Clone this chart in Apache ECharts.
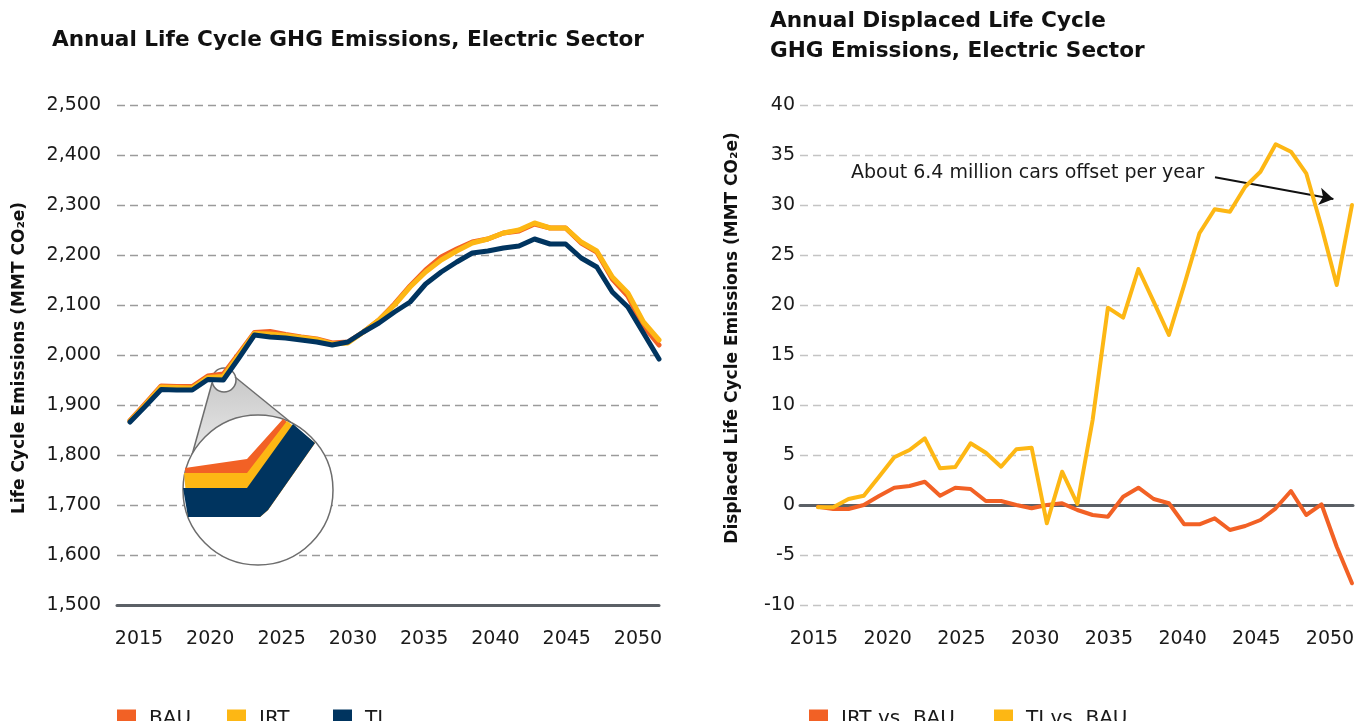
<!DOCTYPE html>
<html>
<head>
<meta charset="utf-8">
<title>Life Cycle GHG Emissions, Electric Sector</title>
<script src="https://cdn.jsdelivr.net/npm/echarts@6/dist/echarts.min.js"></script>
<style>
  html, body { margin: 0; padding: 0; background: #fff; }
  #chart { width: 1359px; height: 721px; }
</style>
</head>
<body>
<div id="chart"></div>
<script>
// 左图：年度全生命周期排放
const yearsLeft = [2016, 2017, 2018, 2019, 2020, 2021, 2022, 2023, 2024, 2025,
  2026, 2027, 2028, 2029, 2030, 2031, 2032, 2033, 2034, 2035,
  2036, 2037, 2038, 2039, 2040, 2041, 2042, 2043, 2044, 2045,
  2046, 2047, 2048, 2049, 2050]
const bau = [1869, 1903, 1938, 1937, 1937, 1958, 1962, 2003, 2045, 2047,
  2041, 2036, 2032, 2024, 2026, 2046, 2070, 2102, 2138, 2170,
  2196, 2212, 2226, 2232, 2244, 2248, 2262, 2254, 2254, 2224,
  2206, 2152, 2118, 2058, 2020]
const irt = [1868, 1901, 1936, 1935, 1934, 1955, 1957, 2000, 2043, 2042,
  2039, 2035, 2031, 2022, 2024, 2046, 2070, 2100, 2136, 2166,
  2190, 2208, 2224, 2232, 2244, 2250, 2264, 2254, 2254, 2226,
  2208, 2156, 2124, 2066, 2030]
const ti = [1866, 1898, 1931, 1930, 1930, 1951, 1950, 1994, 2040, 2036,
  2034, 2030, 2026, 2020, 2026, 2046, 2064, 2086, 2106, 2142,
  2166, 2186, 2204, 2208, 2214, 2218, 2232, 2222, 2222, 2194,
  2176, 2126, 2096, 2044, 1992]

// 右图：被替代的排放
const yearsRight = [2016, 2017, 2018, 2019, 2020, 2021, 2022, 2023, 2024, 2025,
  2026, 2027, 2028, 2029, 2030, 2031, 2032, 2033, 2034, 2035,
  2036, 2037, 2038, 2039, 2040, 2041, 2042, 2043, 2044, 2045,
  2046, 2047, 2048, 2049, 2050, 2051]
const irtVsBau = [-0.17, -0.4, -0.4, 0, 0.9, 1.73, 1.9, 2.33, 0.93, 1.73,
  1.6, 0.4, 0.4, 0, -0.33, 0, 0.17, -0.5, -1.0, -1.17,
  0.83, 1.73, 0.6, 0.17, -1.93, -1.93, -1.33, -2.5, -2.1, -1.5,
  -0.33, 1.4, -1.0, 0.07, -4.17, -7.83]
const tiVsBau = [-0.23, -0.23, 0.6, 0.93, 2.83, 4.77, 5.5, 6.67, 3.67, 3.8,
  6.17, 5.23, 3.83, 5.57, 5.73, -1.83, 3.33, 0.1, 8.5, 19.73,
  18.73, 23.6, 20.33, 17.0, 22.0, 27.17, 29.57, 29.33, 31.83, 33.33,
  36.07, 35.33, 33.17, 27.83, 22.0, 30.0]

const tickYears = [2015, 2020, 2025, 2030, 2035, 2040, 2045, 2050]

const ORANGE = '#f26125'
const YELLOW = '#fdb714'
const NAVY = '#00345f'
const AXIS_GRAY = '#5b6066'
const FONT = 'DejaVu Sans'

const pairs = (xs, ys) => ys.map((v, i) => [xs[i], v])

const dataAxis = (gridIndex, min, max, onZero) => ({ // 数据用的隐藏轴
  type: 'value',
  gridIndex: gridIndex,
  min: min,
  max: max,
  position: 'bottom',
  axisLine: { show: true, onZero: onZero, lineStyle: { color: AXIS_GRAY, width: 3 } },
  axisTick: { show: false },
  axisLabel: { show: false },
  splitLine: { show: false }
})

const labelAxis = (gridIndex, min, max) => ({ // 只画年份标签
  type: 'value',
  gridIndex: gridIndex,
  min: min,
  max: max,
  position: 'bottom',
  axisLine: { show: false, onZero: false },
  axisTick: { show: false },
  splitLine: { show: false },
  axisLabel: {
    customValues: tickYears,
    margin: 25,
    color: '#1a1a1a',
    fontFamily: FONT,
    fontSize: 19,
    formatter: v => String(v)
  }
})

const lineSeries = (name, xi, yi, xs, ys, color, width) => ({
  name: name,
  type: 'line',
  xAxisIndex: xi,
  yAxisIndex: yi,
  z: 10,
  data: pairs(xs, ys),
  symbol: 'none',
  animation: false,
  lineStyle: { color: color, width: width, cap: 'round', join: 'round' },
  itemStyle: { color: color }
})

const legendItem = (name, left) => ({
  data: [name],
  left: left,
  top: 709,
  padding: 0,
  icon: 'rect',
  itemWidth: 19,
  itemHeight: 19,
  selectedMode: false,
  textStyle: { fontFamily: FONT, fontSize: 20, color: '#1a1a1a', padding: [0, 0, 0, 8] }
})

const titleStyle = { fontFamily: FONT, fontWeight: 'bold', fontSize: 21.6, color: '#111', lineHeight: 30 }

const option = {
  backgroundColor: '#fff',
  animation: false,
  title: [
    {
      text: 'Annual Life Cycle GHG Emissions, Electric Sector',
      left: 52,
      top: 25,
      padding: 0,
      textStyle: titleStyle
    },
    {
      text: 'Annual Displaced Life Cycle\nGHG Emissions, Electric Sector',
      left: 770,
      top: 6,
      padding: 0,
      textStyle: titleStyle
    }
  ],
  grid: [
    { left: 117, top: 105, width: 542, height: 500 },
    { left: 800, top: 105, width: 553, height: 500 }
  ],
  xAxis: [
    dataAxis(0, 2015.164, 2050, false),
    labelAxis(0, 2013.457, 2051.473),
    dataAxis(1, 2014.82, 2051.066, true),
    labelAxis(1, 2014.05, 2051.56)
  ],
  yAxis: [
    {
      type: 'value',
      gridIndex: 0,
      min: 1500,
      max: 2500,
      interval: 100,
      axisLine: { show: false },
      axisTick: { show: false },
      axisLabel: {
        margin: 16,
        color: '#1a1a1a',
        fontFamily: FONT,
        fontSize: 19,
        formatter: v => v.toLocaleString('en-US')
      },
      splitLine: { lineStyle: { color: '#9b9b9b', width: 1.4, type: [8, 5] } }
    },
    {
      type: 'value',
      gridIndex: 1,
      min: -10,
      max: 40,
      interval: 5,
      axisLine: { show: false },
      axisTick: { show: false },
      axisLabel: {
        margin: 5,
        color: '#1a1a1a',
        fontFamily: FONT,
        fontSize: 19
      },
      splitLine: { lineStyle: { color: '#c4c4c4', width: 1.4, type: [8, 5] } }
    }
  ],
  legend: [
    legendItem('BAU', 117),
    legendItem('IRT', 227),
    legendItem('TI', 333),
    legendItem('IRT vs. BAU', 809),
    legendItem('TI vs. BAU', 994)
  ],
  series: [
    lineSeries('BAU', 0, 0, yearsLeft, bau, ORANGE, 5),
    lineSeries('IRT', 0, 0, yearsLeft, irt, YELLOW, 5),
    lineSeries('TI', 0, 0, yearsLeft, ti, NAVY, 5),
    lineSeries('IRT vs. BAU', 2, 1, yearsRight, irtVsBau, ORANGE, 4),
    Object.assign(lineSeries('TI vs. BAU', 2, 1, yearsRight, tiVsBau, YELLOW, 4), {
      markLine: { // 标注箭头
        silent: true,
        animation: false,
        symbol: ['none', 'arrow'],
        symbolSize: [13, 14],
        label: { show: false },
        lineStyle: { color: '#111', width: 2, type: 'solid' },
        data: [[{ coord: [2042.02, 32.77] }, { coord: [2049.78, 30.61] }]]
      }
    })
  ],
  graphic: [
    { // y轴名称
      type: 'text', x: 20, y: 358, rotation: Math.PI / 2, z: 5,
      style: {
        text: 'Life Cycle Emissions (MMT CO₂e)',
        fontFamily: FONT, fontWeight: 'bold', fontSize: 17, fill: '#111',
        align: 'center', verticalAlign: 'middle'
      }
    },
    {
      type: 'text', x: 733, y: 338, rotation: Math.PI / 2, z: 5,
      style: {
        text: 'Displaced Life Cycle Emissions (MMT CO₂e)',
        fontFamily: FONT, fontWeight: 'bold', fontSize: 17, fill: '#111',
        align: 'center', verticalAlign: 'middle'
      }
    },
    {
      type: 'text', x: 851, y: 173, z: 5,
      style: {
        text: 'About 6.4 million cars offset per year',
        fontFamily: FONT, fontSize: 19, fill: '#1a1a1a',
        align: 'left', verticalAlign: 'middle'
      }
    },
    // 放大镜示意
    {
      type: 'polygon', z: 1, silent: true,
      shape: {
        points: [[212, 383], [217, 389], [224, 392], [231, 390], [235, 384], [236, 378],
          [315, 442], [258, 490], [192, 455]]
      },
      style: {
        fill: {
          type: 'linear', x: 0, y: 0, x2: 0, y2: 1,
          colorStops: [{ offset: 0, color: '#c9c9c9' }, { offset: 1, color: '#f6f6f6' }]
        }
      }
    },
    { type: 'line', z: 1, silent: true, shape: { x1: 212, y1: 383, x2: 192, y2: 455 }, style: { stroke: '#6d6d6d', lineWidth: 1.5 } },
    { type: 'line', z: 1, silent: true, shape: { x1: 235, y1: 377, x2: 315, y2: 442 }, style: { stroke: '#6d6d6d', lineWidth: 1.5 } },
    {
      type: 'arc', z: 1, silent: true,
      shape: { cx: 224, cy: 380, r: 12, startAngle: 0, endAngle: Math.PI * 2 },
      style: { fill: 'rgba(0,0,0,0)', stroke: '#6d6d6d', lineWidth: 1.5 }
    },
    { type: 'circle', z: 1, silent: true, shape: { cx: 258, cy: 490, r: 75 }, style: { fill: '#fff', stroke: '#6d6d6d', lineWidth: 1.5 } },
    {
      type: 'polygon', z: 1, silent: true,
      shape: { points: [[185, 468], [247, 459], [283, 419], [315, 443], [268, 510], [260, 517], [188, 517]] },
      style: { fill: ORANGE }
    },
    {
      type: 'polygon', z: 1, silent: true,
      shape: { points: [[184, 473], [247, 473], [287, 421], [315, 443], [268, 510], [260, 517], [188, 517]] },
      style: { fill: YELLOW }
    },
    {
      type: 'polygon', z: 1, silent: true,
      shape: { points: [[183, 488], [247, 488], [293, 424], [315, 443], [268, 510], [260, 517], [188, 517]] },
      style: { fill: NAVY }
    }
  ]
}

const chart = echarts.init(document.getElementById('chart'))
chart.setOption(option)
</script>
</body>
</html>
